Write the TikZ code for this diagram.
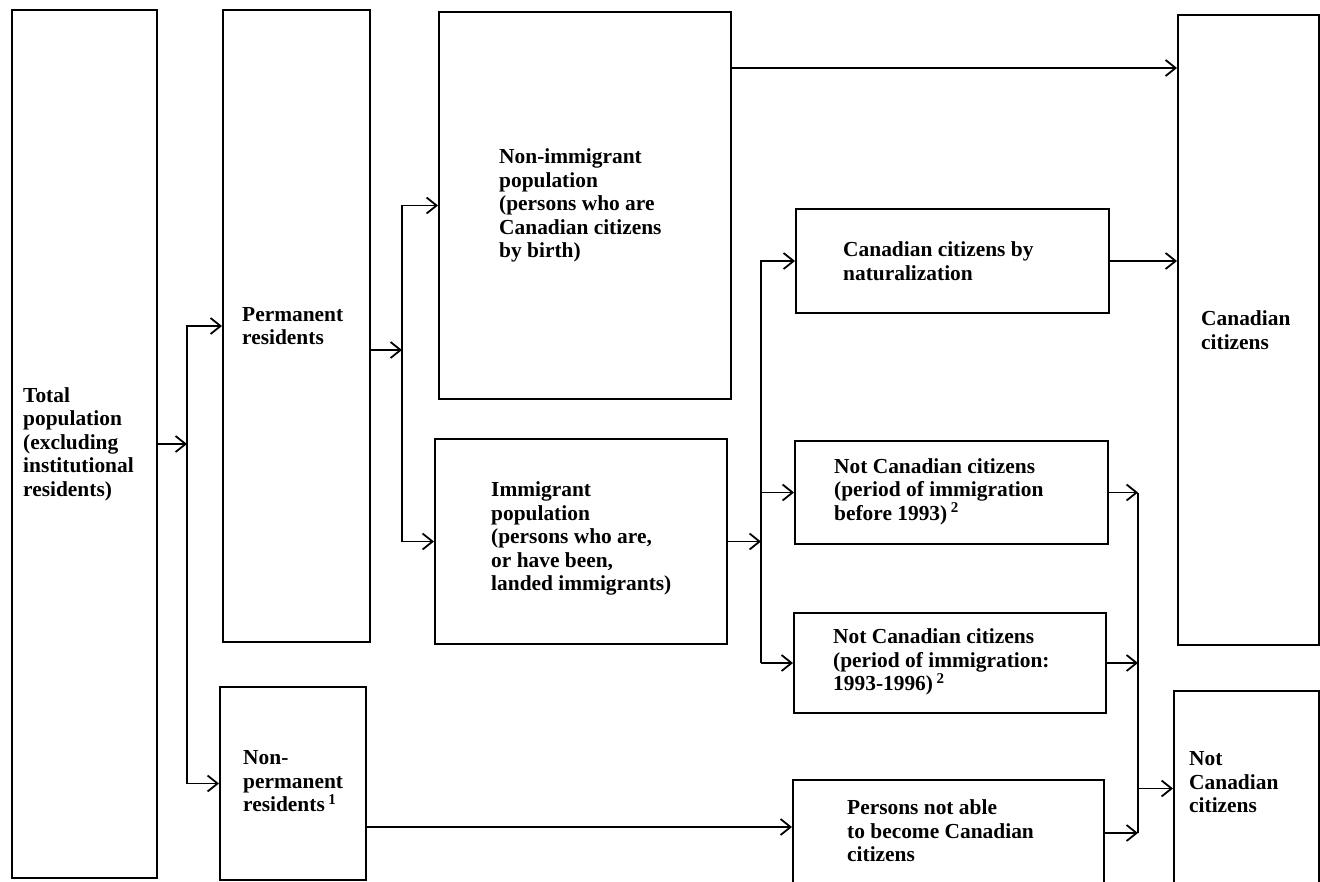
\documentclass[tikz,border=0pt]{standalone}
\usepackage{fontspec}
\setmainfont{Liberation Serif}
\usetikzlibrary{arrows.meta}
\begin{document}
\begin{tikzpicture}[x=1pt,y=-1pt,
  box/.style={draw, line width=2pt, rectangle, inner sep=0pt, anchor=north west},
  lbl/.style={align=left, inner sep=0pt, anchor=west,
              font=\fontsize{21.4}{23.5}\selectfont\bfseries},
  wire/.style={line width=1.8pt, line join=miter},
  arr/.style={wire, -{Straight Barb[length=10pt,width=16pt,line width=1.8pt]}},
]
\useasboundingbox (0,0) rectangle (1320,881);
\fill[white] (0,0) rectangle (1320,881);

% boxes
\node[box, minimum width=145, minimum height=868] (tot) at (11,9) {};
\node[box, minimum width=147, minimum height=632] (perm) at (222,9) {};
\node[box, minimum width=146, minimum height=193] (nonperm) at (219,686) {};
\node[box, minimum width=292, minimum height=387] (nonimm) at (438,11) {};
\node[box, minimum width=292, minimum height=205] (imm) at (434,438) {};
\node[box, minimum width=313, minimum height=104] (nat) at (795,208) {};
\node[box, minimum width=313, minimum height=103] (nc1) at (794,440) {};
\node[box, minimum width=312, minimum height=100] (nc2) at (793,612) {};
\node[box, minimum width=311, minimum height=106] (pers) at (792,779) {};
\node[box, minimum width=141, minimum height=630] (cc) at (1177,14) {};
\node[box, minimum width=145, minimum height=195] (ncc) at (1173,690) {};

% labels
\node[lbl] (totT) at ([xshift=12pt]tot.west) {Total\\population\\(excluding\\institutional\\residents)};
\node[lbl] (permT) at ([xshift=20pt]perm.west) {Permanent\\residents};
\node[lbl] (nonpermT) at ([xshift=24pt,yshift=2pt]nonperm.west) {Non-\\permanent\\residents\,\textsuperscript{1}};
\node[lbl] (nonimmT) at ([xshift=61pt]nonimm.west) {Non-immigrant\\population\\(persons who are\\Canadian citizens\\by birth)};
\node[lbl] (immT) at ([xshift=57pt,yshift=3pt]imm.west) {Immigrant\\population\\(persons who are,\\or have been,\\landed immigrants)};
\node[lbl] (natT) at ([xshift=48pt]nat.west) {Canadian citizens by\\naturalization};
\node[lbl] (nc1T) at ([xshift=40pt,yshift=1pt]nc1.west) {Not Canadian citizens\\(period of immigration\\before 1993)\,\textsuperscript{2}};
\node[lbl] (nc2T) at ([xshift=40pt,yshift=1pt]nc2.west) {Not Canadian citizens\\(period of immigration:\\1993-1996)\,\textsuperscript{2}};
\node[lbl] (persT) at ([xshift=55pt,yshift=2pt]pers.west) {Persons not able\\to become Canadian\\citizens};
\node[lbl] (ccT) at ([xshift=24pt]cc.west) {Canadian\\citizens};
\node[lbl] (nccT) at ([xshift=16pt,yshift=6pt]ncc.west) {Not\\Canadian\\citizens};

% trunk columns and rows
\coordinate (t1) at (187,0);
\coordinate (t2) at (402,0);
\coordinate (t3) at (761,0);
\coordinate (t4) at (1138,0);
\coordinate (rowA) at (0,68);
\coordinate (rowB) at (0,350);
\coordinate (rowC) at (0,827);

% total population split
\draw[arr] (tot.east) -- (tot.east -| t1);
\draw[arr] (nonperm.west -| t1) |- (perm.west);
\draw[arr] (nonperm.west -| t1) -- (nonperm.west);

% permanent residents split
\draw[arr] (perm.east |- rowB) -- (t2 |- rowB);
\draw[arr] (imm.west -| t2) |- (nonimm.west);
\draw[arr] (imm.west -| t2) -- (imm.west);

% to Canadian citizens
\draw[arr] (nonimm.east |- rowA) -- (cc.west |- rowA);
\draw[arr] (nat.east) -- (nat.east -| cc.west);

% immigrant population split
\draw[arr] (imm.east) -- (imm.east -| t3);
\draw[arr] (nc2.west -| t3) |- (nat.west);
\draw[arr] (nc1.west -| t3) -- (nc1.west);
\draw[arr] (nc2.west -| t3) -- (nc2.west);

% non-permanent residents
\draw[arr] (nonperm.east |- rowC) -- (pers.west |- rowC);

% to Not Canadian citizens
\draw[arr] (nc1.east) -- (nc1.east -| t4);
\draw[arr] (nc2.east) -- (nc2.east -| t4);
\draw[arr] (pers.east) -- (pers.east -| t4);
\draw[wire] (nc1.east -| t4) -- (pers.east -| t4);
\draw[arr] (ncc.west -| t4) -- (ncc.west);
\end{tikzpicture}
\end{document}
